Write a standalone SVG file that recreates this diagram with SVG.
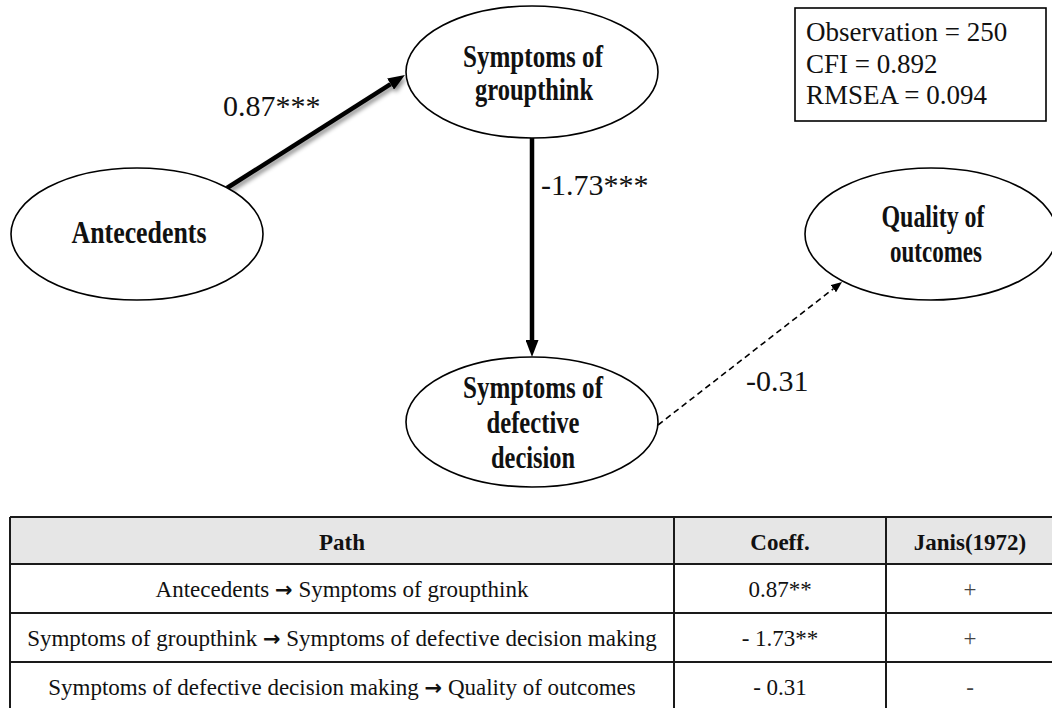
<svg xmlns="http://www.w3.org/2000/svg" width="1052" height="708" viewBox="0 0 1052 708">
  <style>
    .node ellipse { fill: #ffffff; stroke: #000000; stroke-width: 1.6; }
    .node text { font-family: "Liberation Serif", "Times New Roman", serif; font-weight: bold; font-size: 32px; fill: #111111; text-anchor: middle; }
    .coef { font-family: "Liberation Serif", "Times New Roman", serif; font-size: 30px; fill: #111111; }
    .stats text { font-family: "Liberation Serif", "Times New Roman", serif; font-size: 27px; fill: #111111; }
    .solid { stroke: #000000; stroke-width: 4.5; fill: none; }
    .dashed { stroke: #000000; stroke-width: 1.6; stroke-dasharray: 6 4; fill: none; }
    .grid line { stroke: #1a1a1a; stroke-width: 2; }
    .cell { font-family: "Liberation Serif", "Times New Roman", serif; font-size: 23px; fill: #111111; text-anchor: middle; }
    .head { font-weight: bold; font-size: 23px; }
    .arr { font-family: "DejaVu Sans", sans-serif; font-weight: bold; font-size: 21px; }
    .sign { fill: #444444; }
  </style>
  <defs>
    <marker id="headBold" markerUnits="userSpaceOnUse" markerWidth="17" markerHeight="13" refX="0" refY="6.5" orient="auto">
      <path d="M0,0 L17,6.5 L0,13 z" fill="#000000"/>
    </marker>
    <marker id="headThin" markerUnits="userSpaceOnUse" markerWidth="11" markerHeight="9" refX="0" refY="4.5" orient="auto">
      <path d="M0,0 L11,4.5 L0,9 z" fill="#000000"/>
    </marker>
    <filter id="softShadow" x="-20%" y="-20%" width="140%" height="140%">
      <feDropShadow dx="2" dy="3" stdDeviation="2" flood-color="#000000" flood-opacity="0.45"/>
    </filter>
  </defs>

  <!-- path coefficients -->
  <g id="connectors">
    <line class="solid" x1="227" y1="188" x2="390.6" y2="84.1" marker-end="url(#headBold)" filter="url(#softShadow)"/>
    <line class="solid" x1="532" y1="138" x2="532" y2="340" marker-end="url(#headBold)"/>
    <line class="dashed" x1="658" y1="425" x2="833.3" y2="288.8" marker-end="url(#headThin)"/>
    <text class="coef" x="223" y="116">0.87***</text>
    <text class="coef" x="541" y="195">-1.73***</text>
    <text class="coef" x="746" y="391">-0.31</text>
  </g>

  <g id="antecedents" class="node">
    <ellipse cx="137" cy="234" rx="126" ry="66"/>
    <text x="139" y="243" textLength="135" lengthAdjust="spacingAndGlyphs">Antecedents</text>
  </g>

  <g id="groupthink" class="node">
    <ellipse cx="532" cy="72" rx="126" ry="66"/>
    <text x="533" y="67" textLength="140" lengthAdjust="spacingAndGlyphs">Symptoms of</text>
    <text x="534" y="100" textLength="118" lengthAdjust="spacingAndGlyphs">groupthink</text>
  </g>

  <g id="defective-decision" class="node">
    <ellipse cx="532" cy="422" rx="126" ry="65"/>
    <text x="533" y="398" textLength="140" lengthAdjust="spacingAndGlyphs">Symptoms of</text>
    <text x="533" y="433" textLength="93" lengthAdjust="spacingAndGlyphs">defective</text>
    <text x="533" y="468" textLength="84" lengthAdjust="spacingAndGlyphs">decision</text>
  </g>

  <g id="outcomes" class="node">
    <ellipse cx="931" cy="234" rx="126" ry="66"/>
    <text x="933" y="227" textLength="103" lengthAdjust="spacingAndGlyphs">Quality of</text>
    <text x="936" y="262" textLength="92" lengthAdjust="spacingAndGlyphs">outcomes</text>
  </g>

  <!-- model fit -->
  <g id="fit-stats" class="stats">
    <rect x="795" y="8" width="251" height="113" fill="#ffffff" stroke="#000000" stroke-width="1.6"/>
    <text x="806" y="41">Observation = 250</text>
    <text x="806" y="73">CFI = 0.892</text>
    <text x="806" y="104">RMSEA = 0.094</text>
  </g>

  <!-- summary table -->
  <g id="path-table">
    <rect x="10" y="517" width="1050" height="47" fill="#e6e6e6"/>
    <g class="grid">
      <line x1="10" y1="517" x2="1052" y2="517"/>
      <line x1="10" y1="564" x2="1052" y2="564"/>
      <line x1="10" y1="613" x2="1052" y2="613"/>
      <line x1="10" y1="662" x2="1052" y2="662"/>
      <line x1="10" y1="517" x2="10" y2="708"/>
      <line x1="674" y1="517" x2="674" y2="708"/>
      <line x1="886" y1="517" x2="886" y2="708"/>
    </g>
    <text class="cell head" x="342" y="550">Path</text>
    <text class="cell head" x="780" y="550">Coeff.</text>
    <text class="cell head" x="970" y="550">Janis(1972)</text>

    <text class="cell" x="342" y="597">Antecedents <tspan class="arr">→</tspan> Symptoms of groupthink</text>
    <text class="cell" x="780" y="597">0.87**</text>
    <text class="cell sign" x="970" y="597">+</text>

    <text class="cell" x="342" y="646">Symptoms of groupthink <tspan class="arr">→</tspan> Symptoms of defective decision making</text>
    <text class="cell" x="780" y="646">- 1.73**</text>
    <text class="cell sign" x="970" y="646">+</text>

    <text class="cell" x="342" y="695">Symptoms of defective decision making <tspan class="arr">→</tspan> Quality of outcomes</text>
    <text class="cell" x="780" y="695">- 0.31</text>
    <text class="cell sign" x="970" y="695">-</text>
  </g>
</svg>
